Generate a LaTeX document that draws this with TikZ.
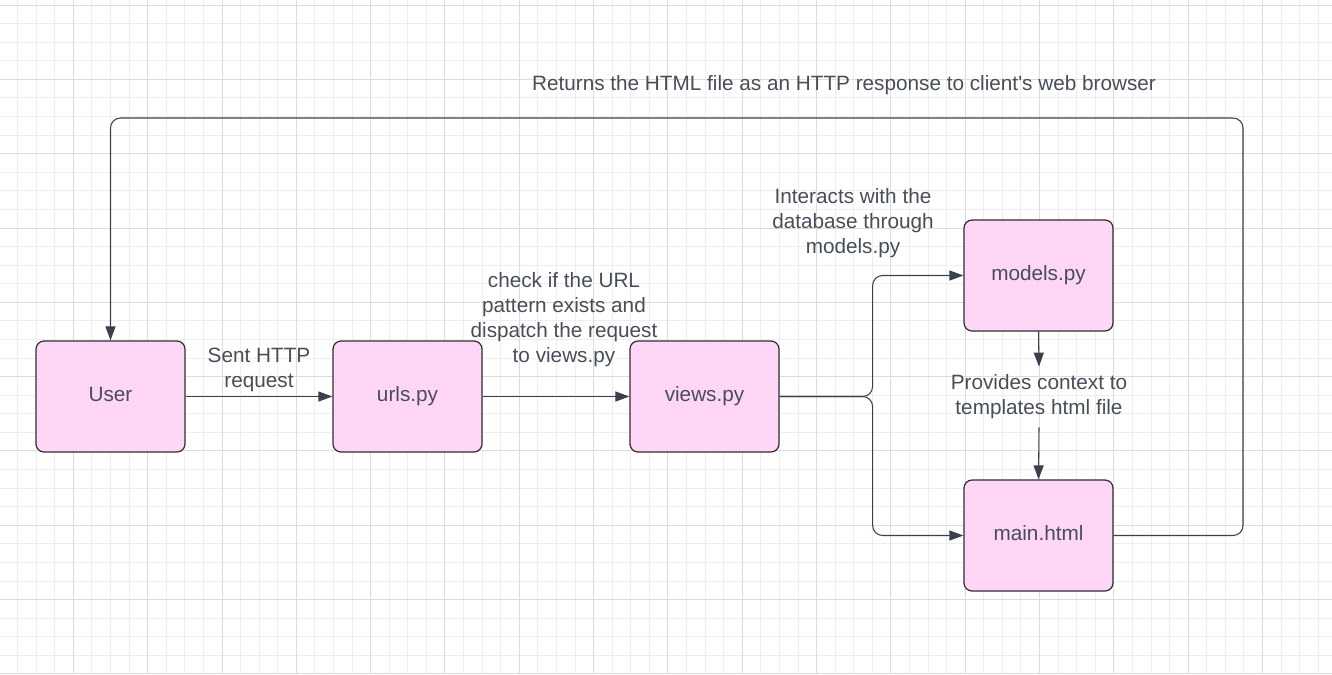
\documentclass[tikz,border=0pt]{standalone}
\usepackage{fontspec}
\setmainfont{Liberation Sans}
\usetikzlibrary{arrows.meta}
\definecolor{boxfill}{HTML}{FFD6F5}
\definecolor{boxline}{HTML}{2E2E33}
\definecolor{wirecol}{HTML}{3A414A}
\definecolor{ink}{HTML}{474E58}
\definecolor{gridminor}{HTML}{EEEEEE}
\definecolor{gridmajor}{HTML}{DCDCDC}
\tikzset{
  module/.style={draw=boxline, fill=boxfill, rounded corners=0.16cm,
    minimum width=2.98cm, minimum height=2.22cm, line width=0.7pt,
    text=ink, text height=0.3cm, text depth=0.12cm,
    font=\fontsize{11.8}{14.2}\selectfont},
  note/.style={text=ink, align=center, inner sep=0pt,
    font=\fontsize{11.8}{14.2}\selectfont},
  link/.style={draw=wirecol, line width=0.6pt, rounded corners=0.2cm,
    -{Triangle[length=0.28cm,width=0.2cm]}},
}
\begin{document}
\begin{tikzpicture}[x=0.02cm,y=-0.02cm]
    \useasboundingbox (0,0) rectangle (1332,674);
    % background grid
    \foreach \k in {0,...,71} {
      \draw[gridminor,line width=0.5pt] ({18.58*\k-1},0) -- ({18.58*\k-1},674);
    }
    \foreach \k in {0,...,36} {
      \draw[gridminor,line width=0.5pt] (0,{18.58*\k+5}) -- (1332,{18.58*\k+5});
    }
    \foreach \k in {0,4,...,68} {
      \draw[gridmajor,line width=0.5pt] ({18.58*\k-1},0) -- ({18.58*\k-1},674);
    }
    \foreach \k in {0,4,...,36} {
      \draw[gridmajor,line width=0.5pt] (0,{18.58*\k+5}) -- (1332,{18.58*\k+5});
    }
    % boxes
    \node[module] (user) at (110.5,396.5) {User};
    \node[module] (urls) at (407.5,396.5) {urls.py};
    \node[module] (views) at (704.5,396.5) {views.py};
    \node[module] (models) at (1038.5,275.5) {models.py};
    \node[module] (main) at (1038.5,535.5) {main.html};
    % labels
    \node[note] (sent) at (259,370) {Sent HTTP\\request};
    \node[note] (check) at (564,320) {check if the URL\\pattern exists and\\dispatch the request\\to views.py};
    \node[note] (talk) at (853,223) {Interacts with the\\database through\\models.py};
    \node[note,minimum height=1.2cm] (ctx) at (1039,397) {Provides context to\\templates html file};
    \node[note] (back) at (844,85) {Returns the HTML file as an HTTP response to client\textquotesingle s web browser};
    \coordinate (ret) at (1243,118);
    % connectors
    \draw[link] (user.east) -- (urls.west);
    \draw[link] (urls.east) -- (views.west);
    \draw[link] (views.east) -- ++(93,0) |- (models.west);
    \draw[link] (views.east) -- ++(93,0) |- (main.west);
    \draw[link] (models.south) -- (ctx.north);
    \draw[link] (ctx.south) -- (main.north);
    \draw[link] (main.east) -| (ret) -| (user.north);
\end{tikzpicture}
\end{document}
